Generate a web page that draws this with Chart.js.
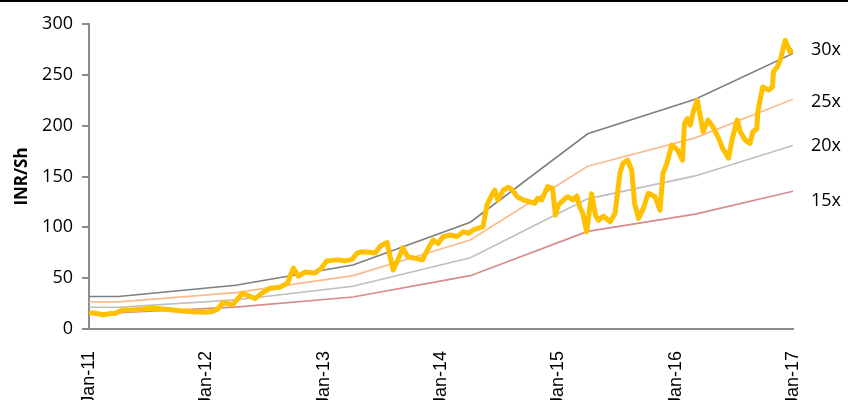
<!DOCTYPE html>
<html>
<head>
<meta charset="utf-8">
<script src="https://cdn.jsdelivr.net/npm/chart.js@4.4.1/dist/chart.umd.min.js"></script>
<style>
  html, body { margin: 0; padding: 0; background: #fff; }
  #wrap { width: 848px; height: 400px; position: relative; }
</style>
</head>
<body>
<div id="wrap"><canvas id="myChart"></canvas></div>
<script>
// ========== data (x = months since Jan-11)
const tickLabels = ['Jan-11', 'Jan-12', 'Jan-13', 'Jan-14', 'Jan-15', 'Jan-16', 'Jan-17'];

const bandMonths = [0, 3, 15, 27, 39, 51, 62, 72];
const band30 = [32, 32, 43, 63, 105, 192, 226, 271];
const band25 = [26.7, 26.7, 35.8, 52.5, 87.5, 160, 188, 226];
const band20 = [21.4, 21.4, 28.6, 42, 70, 128, 150.6, 180.6];
const band15 = [16, 16, 21.5, 31.5, 52.5, 96, 113, 135.5];
const bandNames = ['30x', '25x', '20x', '15x'];

const priceMonths = [
  0, 0.6, 1.4, 2.1, 2.7, 3.4, 4.7, 6.5, 7.8, 9.3, 10.6, 11.9, 12.7, 13.2, 13.7, 14.7,
  15.7, 17.0, 17.8, 18.5, 19.5, 20.3, 20.9, 21.4, 22.1, 23.1, 23.8, 24.3, 25.5, 26.2,
  26.9, 27.4, 27.9, 29.3, 29.8, 30.5, 30.6, 31.1, 31.6, 32.1, 32.6, 33.4, 34.1, 34.6,
  35.2, 35.7, 36.2, 37.0, 37.6, 38.3, 38.8, 39.3, 40.3, 40.7, 41.2, 41.5, 41.8, 42.4,
  42.9, 43.3, 43.8, 44.4, 45.1, 45.6, 45.9, 46.3, 46.9, 47.4, 47.7, 48.0, 48.7, 49.0,
  49.5, 49.9, 50.2, 50.5, 50.9, 51.4, 51.8, 52.1, 52.6, 53.3, 53.8, 54.3, 54.6, 55.1,
  55.5, 55.8, 56.2, 56.7, 57.2, 57.9, 58.4, 58.7, 59.1, 59.6, 60.2, 60.7, 60.9, 61.2,
  61.5, 61.8, 62.2, 62.5, 62.8, 63.3, 63.8, 64.4, 64.8, 65.4, 65.8, 66.3, 66.6, 67.1,
  67.6, 67.9, 68.3, 68.4, 68.9, 69.5, 69.9, 70.0, 70.4, 70.7, 71.2, 71.7, 72
];
const priceValues = [
  16, 15.5, 14, 15, 15.5, 18.7, 19, 20.5, 19.5, 18, 17, 16.5, 17.5, 20, 26, 24,
  35, 30, 36, 40, 41, 45, 60, 52, 56, 55, 60, 67, 68, 67,
  68.5, 74.4, 76, 75, 81.6, 85, 80, 58, 68, 80, 71, 69.5, 68, 77.7,
  87.5, 84, 90.8, 92.5, 90.8, 95.7, 94, 97.4, 100.7, 122, 131.8, 136.7, 127, 136.7,
  139.4, 136.7, 130, 127, 125, 123.6, 128.5, 127, 140, 138.4, 112, 122, 128.5, 130,
  127, 130.8, 120, 113.8, 95.7, 133, 112, 107, 111, 105.5, 113.8, 153, 163, 166,
  156, 123.6, 108.8, 118.7, 133.5, 130, 117, 153, 163, 181, 176, 166, 202, 207,
  200.6, 213.7, 225, 210.5, 194, 205.6, 199, 187.5, 177.7, 168, 187.5, 205.6, 194, 186,
  182.6, 194, 197, 213.7, 238, 235, 238, 253, 258, 264.6, 284, 272.7, 274.4
];


// ========== helpers
function toPoints(xs, ys) {
  return xs.map((x, i) => ({ x: x, y: ys[i] }));
}

const bandColors = ['#7f7f7f', '#f9bb8e', '#bfbfbf', '#d98a8a'];
const bandSeries = [band30, band25, band20, band15];
const labelNudge = [-4, 3, 0, 10];

const bandLabels = {
  id: 'bandLabels',
  afterDraw(chart) {
    const ctx = chart.ctx;
    const y = chart.scales.y;
    ctx.save();
    // frame line at top of the page
    ctx.fillStyle = '#000';
    ctx.fillRect(0, 0, chart.width, 2);
    ctx.font = '18px "Open Sans"';
    ctx.fillStyle = '#000';
    ctx.textAlign = 'left';
    ctx.textBaseline = 'middle';
    bandNames.forEach((name, i) => {
      const arr = bandSeries[i];
      ctx.fillText(name, 811, y.getPixelForValue(arr[arr.length - 1]) + labelNudge[i]);
    });
    ctx.restore();
  }
};


// ========== setup chartjs
const datasets = [{
  label: 'Price',
  data: toPoints(priceMonths, priceValues),
  borderColor: '#ffc000',
  borderWidth: 5,
  pointRadius: 0,
  tension: 0,
  borderJoinStyle: 'round'
}];
bandNames.forEach((name, i) => {
  datasets.push({
    label: name,
    data: toPoints(bandMonths, bandSeries[i]),
    borderColor: bandColors[i],
    borderWidth: 1.6,
    pointRadius: 0,
    tension: 0
  });
});

const ctx1 = document.getElementById('myChart').getContext('2d');
const myChart = new Chart(ctx1, {
  type: 'line',
  data: { datasets: datasets },
  plugins: [bandLabels],
  options: {
    responsive: true,
    maintainAspectRatio: false,
    animation: false,
    layout: { padding: { top: 24, right: 55, left: 0, bottom: 0 } },
    plugins: {
      legend: { display: false },
      tooltip: { enabled: false }
    },
    scales: {
      x: {
        type: 'linear',
        min: 0,
        max: 72,
        afterFit: (axis) => { axis.height = 71; },
        border: { display: true, color: '#8c8c8c', width: 2 },
        grid: { display: false },
        ticks: {
          stepSize: 12,
          autoSkip: false,
          maxRotation: 90,
          minRotation: 90,
          padding: 14,
          color: '#000',
          font: { family: '"Liberation Sans", Arial', size: 18 },
          callback: (v) => tickLabels[v / 12]
        }
      },
      y: {
        min: 0,
        max: 300,
        afterFit: (axis) => { axis.width = 89; },
        border: { display: true, color: '#8c8c8c', width: 2 },
        grid: { display: true, drawOnChartArea: false, drawTicks: true, tickLength: 7, color: '#8c8c8c', lineWidth: 2 },
        ticks: {
          stepSize: 50,
          padding: 9,
          color: '#000',
          font: { family: '"Open Sans"', size: 18 }
        },
        title: {
          display: true,
          text: 'INR/Sh',
          color: '#000',
          padding: { top: 12, bottom: 0 },
          font: { family: '"Open Sans"', size: 17, weight: 'bold' }
        }
      }
    }
  }
});
</script>
</body>
</html>
